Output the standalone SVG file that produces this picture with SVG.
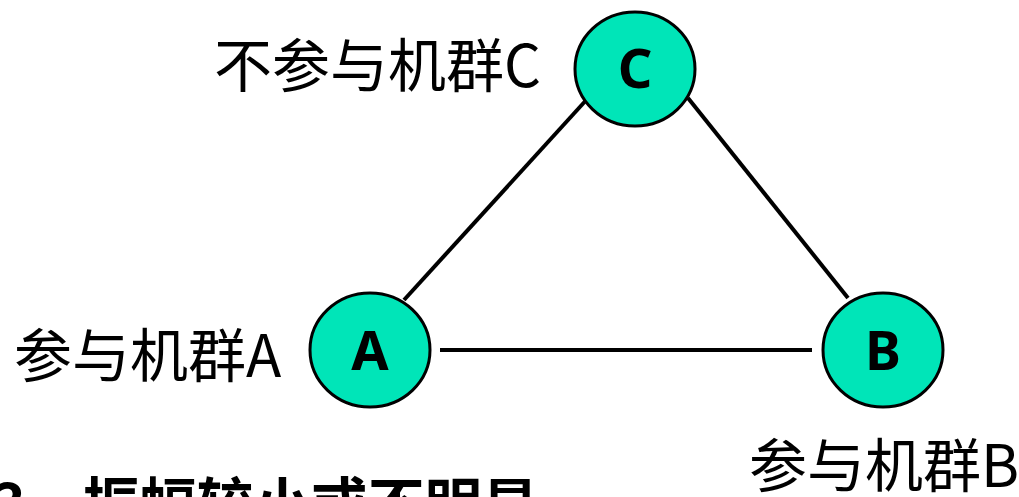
<svg xmlns="http://www.w3.org/2000/svg" width="1019" height="497" viewBox="0 0 1019 497">
<style>
.node{fill:#00E5B8;stroke:#000;stroke-width:3}
.nl{font-family:"Noto Sans","Noto Sans CJK SC",sans-serif;font-weight:bold;font-size:54px;text-anchor:middle;fill:#000}
.lb{font-family:"Noto Sans CJK SC",sans-serif;font-size:58px;fill:#000}
.edge{stroke:#000;stroke-width:4;fill:none}
</style>
<rect width="1019" height="497" fill="#fff"/>
<g id="connectors">
<line class="edge" x1="589" y1="97" x2="404" y2="300"/>
<line class="edge" x1="688" y1="98" x2="848" y2="298"/>
<line class="edge" x1="440" y1="350" x2="812" y2="350"/>
</g>
<g id="nodeC">
<ellipse class="node" cx="635" cy="69" rx="60" ry="57"/>
<text class="nl" x="635" y="88">C</text>
</g>
<g id="nodeA">
<ellipse class="node" cx="370" cy="350" rx="60" ry="57"/>
<text class="nl" x="370" y="370">A</text>
</g>
<g id="nodeB">
<ellipse class="node" cx="883" cy="350" rx="60" ry="57"/>
<text class="nl" x="883" y="370">B</text>
</g>
<g id="labels">
<text class="lb" x="214" y="87">不参与机群C</text>
<text class="lb" x="14" y="377">参与机群A</text>
<text class="lb" x="749" y="487">参与机群B</text>
<text font-family="Noto Sans CJK SC,sans-serif" font-weight="bold" font-size="57" x="-8" y="525">3、振幅较小或不明显</text>
</g>
</svg>
